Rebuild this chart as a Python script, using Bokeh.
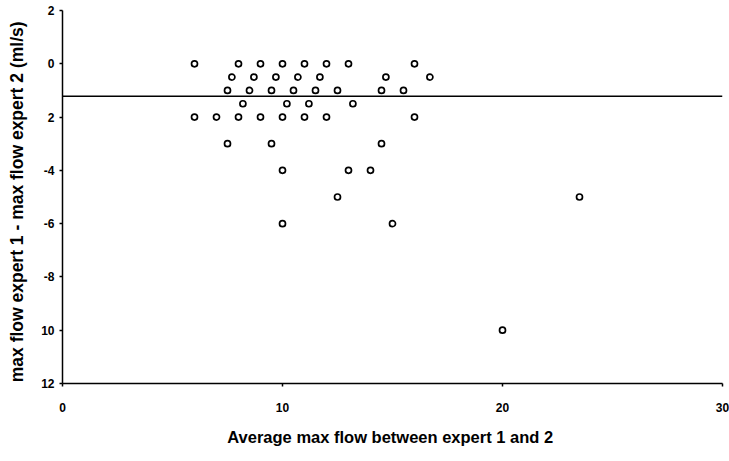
from bokeh.plotting import figure
from bokeh.models import Span, FixedTicker, Range1d
from bokeh.embed import file_html
from bokeh.resources import INLINE

# Bland-Altman style comparison of max flow readings by two experts
avg_flow = [
    6, 8, 9, 10, 11, 12, 13, 16,
    7.7, 8.7, 9.7, 10.7, 11.7, 14.7, 16.7,
    7.5, 8.5, 9.5, 10.5, 11.5, 12.5, 14.5, 15.5,
    8.2, 10.2, 11.2, 13.2,
    6, 7, 8, 9, 10, 11, 12, 16,
    7.5, 9.5, 14.5,
    10, 13, 14,
    12.5, 23.5,
    10, 15,
    20,
]
flow_diff = [
    0, 0, 0, 0, 0, 0, 0, 0,
    -0.5, -0.5, -0.5, -0.5, -0.5, -0.5, -0.5,
    -1, -1, -1, -1, -1, -1, -1, -1,
    -1.5, -1.5, -1.5, -1.5,
    -2, -2, -2, -2, -2, -2, -2, -2,
    -3, -3, -3,
    -4, -4, -4,
    -5, -5,
    -6, -6,
    -10,
]
mean_diff = -1.22

x_ticks = [0, 10, 20, 30]
y_ticks = [2, 0, -2, -4, -6, -8, -10, -12]
y_tick_labels = ["2", "0", "2", "-4", "-6", "-8", "10", "12"]

FONT = "Liberation Sans"

p = figure(
    width=729, height=461,
    output_backend="svg", toolbar_location=None,
    x_range=Range1d(0, 30), y_range=Range1d(-12, 2),
    min_border_left=62, min_border_right=7,
    min_border_top=10, min_border_bottom=78,
)
p.outline_line_color = None
p.xgrid.visible = False
p.ygrid.visible = False
p.background_fill_color = "white"
p.border_fill_color = "white"

# mean difference line
p.add_layout(Span(location=mean_diff, dimension="width",
                  line_color="black", line_width=1.6))

p.scatter(avg_flow, flow_diff, marker="circle", size=6,
          line_color="black", line_width=1.7, fill_color="white")

for ax in (p.xaxis[0], p.yaxis[0]):
    ax.axis_line_color = "black"
    ax.axis_line_width = 1.5
    ax.major_tick_line_color = "black"
    ax.major_tick_line_width = 1.5
    ax.major_tick_out = 3
    ax.major_tick_in = 0
    ax.minor_tick_line_color = None
    ax.major_label_text_font = FONT
    ax.major_label_text_font_style = "bold"
    ax.major_label_text_font_size = "12px"
    ax.major_label_text_color = "black"
    ax.axis_label_text_font = FONT
    ax.axis_label_text_font_style = "bold"
    ax.axis_label_text_color = "black"

p.xaxis.ticker = FixedTicker(ticks=x_ticks)
p.xaxis.major_label_standoff = 16
p.xaxis.axis_label = "Average max  flow between expert 1 and 2"
p.xaxis.axis_label_text_font_size = "16.5px"
p.xaxis.axis_label_standoff = 13

p.yaxis.ticker = FixedTicker(ticks=y_ticks)
p.yaxis.major_label_overrides = {t: s for t, s in zip(y_ticks, y_tick_labels)}
p.yaxis.major_label_standoff = 5
p.yaxis.axis_label = "max  flow expert 1 - max  flow expert 2 (ml/s)"
p.yaxis.axis_label_text_font_size = "17.5px"
p.yaxis.axis_label_standoff = 11

open("out.html", "w").write(file_html(p, INLINE))
